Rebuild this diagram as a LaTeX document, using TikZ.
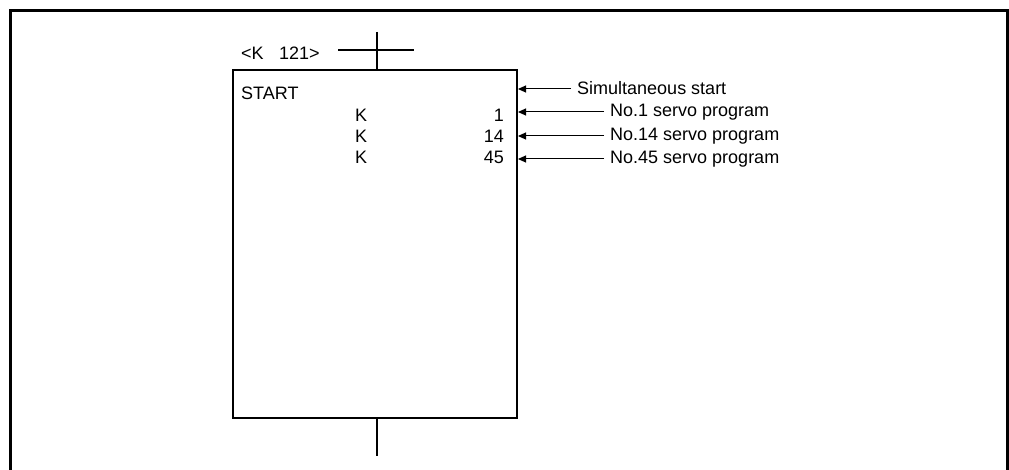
\documentclass[tikz,border=0pt]{standalone}
\usepackage{fontspec}
\setmainfont{Liberation Sans}
\usetikzlibrary{arrows.meta}
\begin{document}
\begin{tikzpicture}[x=1pt,y=-1pt,
  txt/.style={inner sep=0pt,font=\fontsize{18}{21}\selectfont},
  arr/.style={line width=1pt,-{Triangle[length=8pt,width=7pt]}},
  wire/.style={line width=1.6pt}]
\useasboundingbox (0,0) rectangle (1009,470);
% outer frame
\draw[line width=3pt] (10,470) -- (10,11) -- (1007,11) -- (1007,470);
% main box
\node[draw,line width=2pt,minimum width=284pt,minimum height=348pt,inner sep=0pt] (box) at (375,244) {};
% top and bottom wires
\coordinate (ttop) at (377,32);
\coordinate (hl) at (338,50);
\coordinate (hr) at (414,50);
\coordinate (bbot) at (377,456);
\draw[wire] (ttop) -- (ttop |- box.north);
\draw[wire] (hl) -- (hr);
\draw[wire] (bbot |- box.south) -- (bbot);
% texts
\node[txt,anchor=base west] (kn) at (241,60) {<K\hspace{0.85em}121>};
\node[txt,anchor=base west] (st) at (241,100) {START};
\node[txt,anchor=base west] (k1) at (355,121.5) {K};
\node[txt,anchor=base west] (k2) at (355,142.5) {K};
\node[txt,anchor=base west] (k3) at (355,164) {K};
\node[txt,anchor=base east] (n1) at (504,121.5) {1};
\node[txt,anchor=base east] (n2) at (504,142.5) {14};
\node[txt,anchor=base east] (n3) at (504,164) {45};
% labels
\node[txt,anchor=west] (l0) at (577,88) {Simultaneous start};
\node[txt,anchor=west] (l1) at (610,112) {No.1 servo program};
\node[txt,anchor=west] (l2) at (610,136) {No.14 servo program};
\node[txt,anchor=west] (l3) at (610,159) {No.45 servo program};
\foreach \l/\y in {l0/89,l1/112,l2/136,l3/159}{
  \draw[arr] ([xshift=-6pt]\l.west |- 0,\y) -- (box.east |- 0,\y);
}
\end{tikzpicture}
\end{document}
